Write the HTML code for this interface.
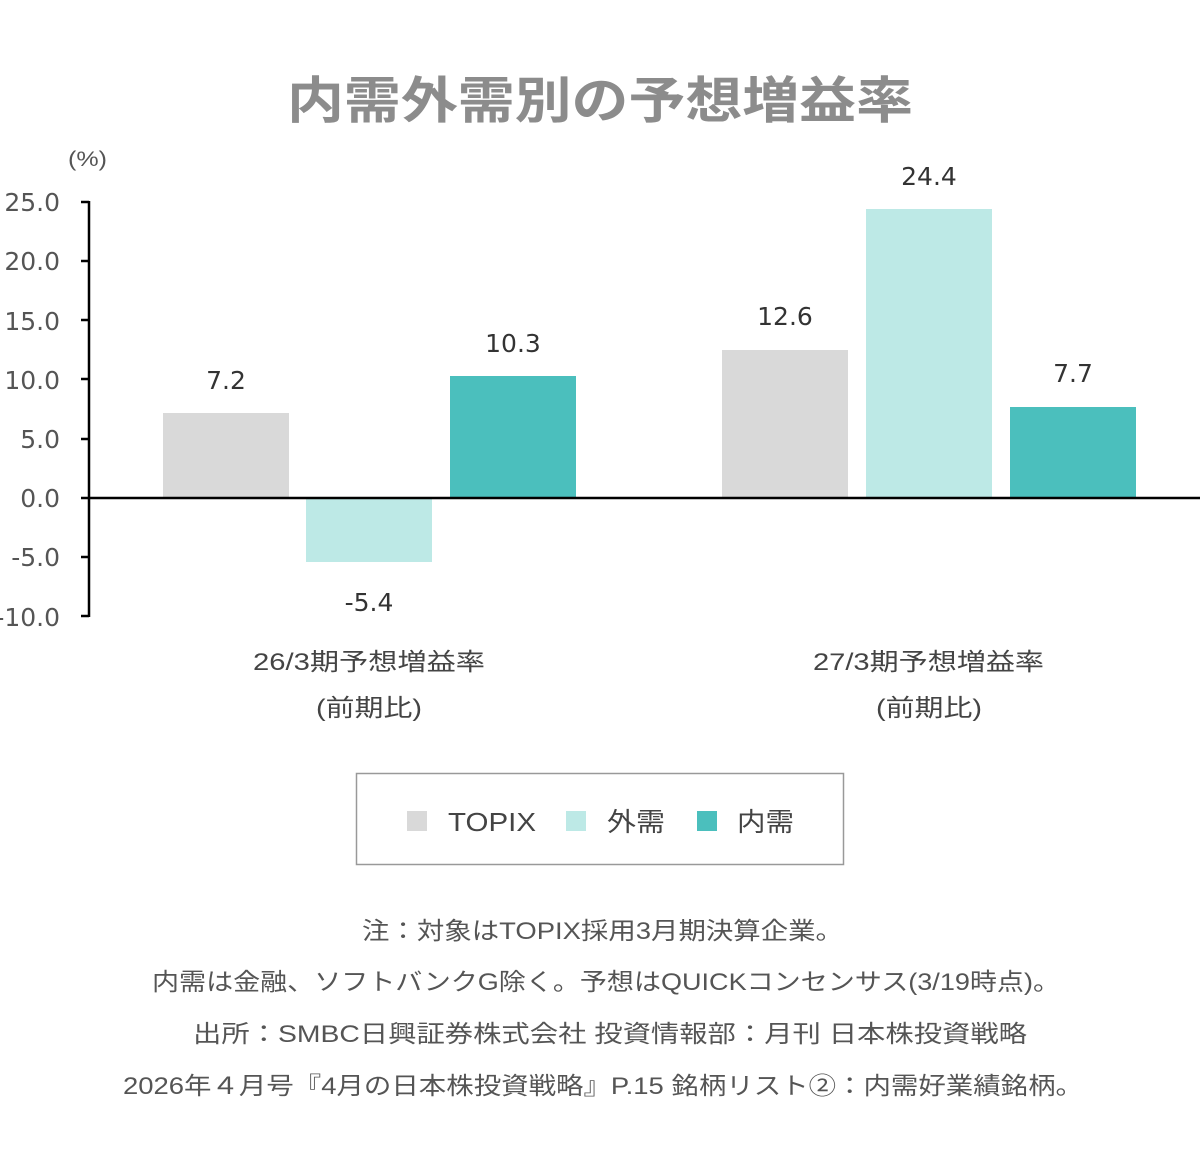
<!DOCTYPE html>
<html><head><meta charset="utf-8"><style>
html,body{margin:0;padding:0;background:#fff;}
svg{display:block;}
text{font-family:"Liberation Sans","Noto Sans CJK JP",sans-serif;}
.n{font-family:"DejaVu Sans","Liberation Sans",sans-serif;}
</style></head><body>
<svg width="1200" height="1168" viewBox="0 0 1200 1168" xmlns="http://www.w3.org/2000/svg">
<text x="287" y="118" font-size="50" font-weight="bold" fill="#8c8c8c" textLength="626" lengthAdjust="spacingAndGlyphs">内需外需別の予想増益率</text>
<text x="68" y="166" font-size="21" fill="#555" textLength="39" lengthAdjust="spacingAndGlyphs">(%)</text>
<g font-size="25" fill="#555" text-anchor="end" class="n">
<text class="n" x="60" y="211">25.0</text>
<text class="n" x="60" y="270">20.0</text>
<text class="n" x="60" y="330">15.0</text>
<text class="n" x="60" y="389">10.0</text>
<text class="n" x="60" y="448">5.0</text>
<text class="n" x="60" y="507">0.0</text>
<text class="n" x="60" y="566">-5.0</text>
<text class="n" x="60" y="626">-10.0</text>
</g>
<g fill="#d9d9d9"><rect x="163" y="413" width="126" height="85"/><rect x="722" y="350" width="126" height="148"/></g>
<g fill="#bde9e6"><rect x="306" y="498" width="126" height="64"/><rect x="866" y="209" width="126" height="289"/></g>
<g fill="#4bbfbd"><rect x="450" y="376" width="126" height="122"/><rect x="1010" y="407" width="126" height="91"/></g>
<g stroke="#000" stroke-width="2.5">
<line x1="89" y1="201" x2="89" y2="617"/>
<line x1="81" y1="498" x2="1200" y2="498"/>
<line x1="81" y1="202" x2="89" y2="202"/><line x1="81" y1="261" x2="89" y2="261"/>
<line x1="81" y1="320" x2="89" y2="320"/><line x1="81" y1="379" x2="89" y2="379"/>
<line x1="81" y1="439" x2="89" y2="439"/><line x1="81" y1="557" x2="89" y2="557"/>
<line x1="81" y1="616" x2="89" y2="616"/>
</g>
<g font-size="25" fill="#333" text-anchor="middle">
<text class="n" x="226" y="389">7.2</text>
<text class="n" x="369" y="611">-5.4</text>
<text class="n" x="513" y="352">10.3</text>
<text class="n" x="785" y="325">12.6</text>
<text class="n" x="929" y="185">24.4</text>
<text class="n" x="1073" y="382">7.7</text>
</g>
<g font-size="24" fill="#444">
<text x="253" y="670" textLength="232" lengthAdjust="spacingAndGlyphs">26/3期予想増益率</text>
<text x="316" y="716" textLength="106" lengthAdjust="spacingAndGlyphs">(前期比)</text>
<text x="813" y="670" textLength="231" lengthAdjust="spacingAndGlyphs">27/3期予想増益率</text>
<text x="876" y="716" textLength="106" lengthAdjust="spacingAndGlyphs">(前期比)</text>
</g>
<rect x="356.5" y="773.5" width="487" height="91" fill="none" stroke="#999" stroke-width="1.5"/>
<rect x="407" y="811" width="20" height="20" fill="#d9d9d9"/>
<text x="448" y="831" font-size="26" fill="#444" textLength="88" lengthAdjust="spacingAndGlyphs">TOPIX</text>
<rect x="566" y="811" width="20" height="20" fill="#bde9e6"/>
<text x="607" y="831" font-size="26" fill="#444" textLength="58" lengthAdjust="spacingAndGlyphs">外需</text>
<rect x="697" y="811" width="20" height="20" fill="#4bbfbd"/>
<text x="737" y="831" font-size="26" fill="#444" textLength="57" lengthAdjust="spacingAndGlyphs">内需</text>
<g font-size="24" fill="#555">
<text x="362" y="939" textLength="481" lengthAdjust="spacingAndGlyphs">注：対象はTOPIX採用3月期決算企業。</text>
<text x="152" y="990" textLength="908" lengthAdjust="spacingAndGlyphs">内需は金融、ソフトバンクG除く。予想はQUICKコンセンサス(3/19時点)。</text>
<text x="193" y="1042" textLength="834" lengthAdjust="spacingAndGlyphs">出所：SMBC日興証券株式会社 投資情報部：月刊 日本株投資戦略</text>
<text x="123" y="1094" textLength="960" lengthAdjust="spacingAndGlyphs">2026年４月号『4月の日本株投資戦略』P.15 銘柄リスト②：内需好業績銘柄。</text>
</g>
</svg>
</body></html>
